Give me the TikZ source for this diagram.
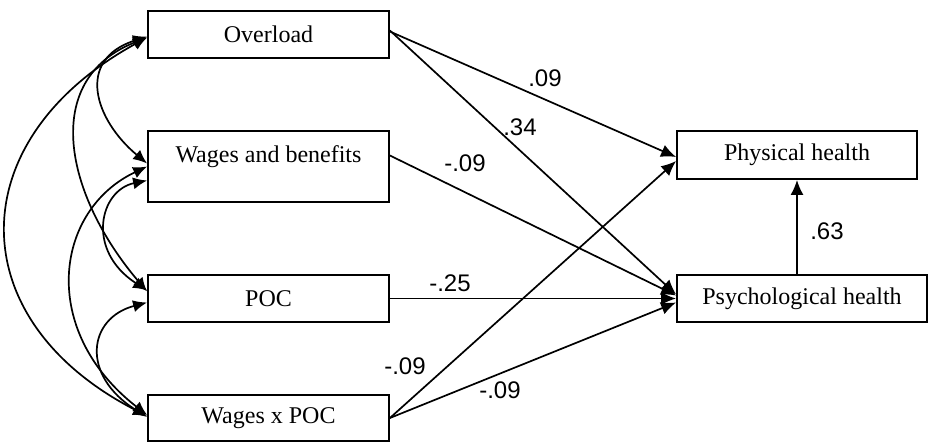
\documentclass[tikz,border=0pt]{standalone}
\usepackage{fontspec}
\setmainfont{Liberation Serif}
\newfontfamily\coef{Liberation Sans}
\usetikzlibrary{arrows.meta,calc}
\tikzset{
  box/.style={draw, line width=1.8pt, inner sep=0pt, minimum width=241pt, minimum height=47pt, font=\fontsize{24}{28}\selectfont},
  txt/.style={inner sep=0pt, font=\fontsize{24}{28}\selectfont},
  coeflab/.style={inner sep=0pt, font=\coef\fontsize{24}{28}\selectfont},
  path/.style={line width=1.7pt, -{Latex[length=15pt,width=13pt]}},
  cov/.style={line width=1.7pt, {Latex[length=14pt,width=12pt]}-{Latex[length=14pt,width=12pt]}}
}
\begin{document}
\begin{tikzpicture}[x=1pt,y=-1pt]
\useasboundingbox (0,0) rectangle (930,447);
% boxes
\node[box] (ov) at (268.5,34.5) {Overload};
\node[box, minimum height=71pt] (wb) at (268.5,166.5) {};
\node[txt] (wbt) at (268.5,157) {Wages and benefits};
\node[box] (poc) at (268.5,298.5) {POC};
\node[box, minimum height=46pt] (wxp) at (268.5,418) {Wages x POC};
\node[box, minimum width=240pt, minimum height=48pt] (ph) at (797,155) {Physical health};
\node[box, minimum width=250pt] (psy) at (802,298.5) {Psychological health};
% structural paths
\draw[path] ($(ov.east)+(0,-3)$) -- ($(ph.west)+(0,2)$);
\draw[path] ($(ov.east)+(0,-4)$) -- ($(psy.west)+(0,-4)$);
\draw[path] ($(wb.east)+(0,-11)$) -- ($(psy.west)+(0,-3)$);
\draw[path] (poc.east) -- (psy.west);
\draw[path] ($(wxp.east)+(0,0)$) -- ($(ph.west)+(0,6)$);
\draw[path] ($(wxp.east)+(0,0)$) -- ($(psy.west)+(0,4)$);
\draw[path] (psy.north -| ph.south) -- (ph.south);
% coefficients
\node[coeflab] (c1) at (545,78) {.09};
\node[coeflab] (c2) at (520,127) {.34};
\node[coeflab] (c3) at (465,163) {-.09};
\node[coeflab] (c4) at (450,283) {-.25};
\node[coeflab] (c5) at (405,366) {-.09};
\node[coeflab] (c6) at (500,390) {-.09};
\node[coeflab] (c7) at (827,231) {.63};
% covariances
\draw[cov] ($(ov.west)+(0,2)$) .. controls (75,60) and (95,120) .. ($(wb.west)+(0,-3)$);
\draw[cov] ($(ov.west)+(0,3)$) .. controls (40,80) and (65,195) .. ($(poc.west)+(0,-7)$);
\draw[cov] ($(ov.west)+(0,3)$) .. controls (-40,140) and (-40,320) .. ($(wxp.west)+(0,-2)$);
\draw[cov] ($(wb.west)+(0,14)$) .. controls (100,190) and (85,250) .. ($(poc.west)+(0,-8)$);
\draw[cov] ($(wb.west)+(0,0)$) .. controls (55,210) and (38,330) .. ($(wxp.west)+(0,-3)$);
\draw[cov] ($(poc.west)+(0,4)$) .. controls (88,318) and (80,375) .. ($(wxp.west)+(0,-1)$);
\end{tikzpicture}
\end{document}
